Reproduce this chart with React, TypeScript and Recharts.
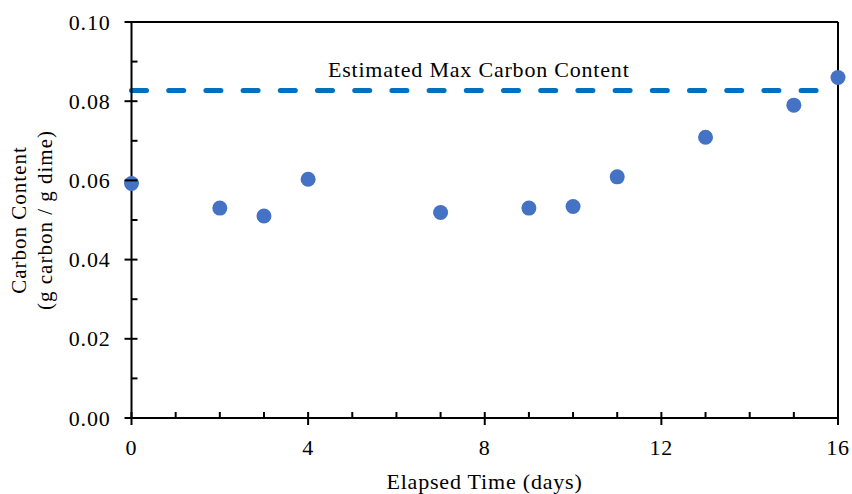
import React from 'react'
import { ScatterChart, Scatter, XAxis, YAxis, ReferenceLine } from 'recharts'

// elapsed time (days) and measured carbon content (g carbon / g dime)
const days = [0, 2, 3, 4, 7, 9, 10, 11, 13, 15, 16]
const carbon = [0.0592, 0.053, 0.051, 0.0603, 0.0519, 0.053, 0.0534, 0.0609, 0.0709, 0.079, 0.086]

const maxCarbon = 0.0827
const xTicks = [0, 1, 2, 3, 4, 5, 6, 7, 8, 9, 10, 11, 12, 13, 14, 15, 16]
const yTicks = [0, 0.01, 0.02, 0.03, 0.04, 0.05, 0.06, 0.07, 0.08, 0.09, 0.1]

const FONT = '"Liberation Serif", "Times New Roman", serif'
const textStyle = { fontFamily: FONT, fontSize: 22, letterSpacing: 0.8, fill: '#000' }

const data = days.map((d, i) => ({ x: d, y: carbon[i] }))

function XTick(props: any) {
  const { x, y, payload } = props
  const v = payload.value
  const major = v % 4 === 0
  return (
    <g>
      <line x1={x} x2={x} y1={y - 6} y2={major ? y + 7 : y} stroke="#000" strokeWidth={2} />
      {major && (
        <text x={x} y={y + 37} textAnchor="middle" style={textStyle}>{v}</text>
      )}
    </g>
  )
}

function YTick(props: any) {
  const { x, y, payload } = props
  const v = payload.value
  const major = Math.round(v * 100) % 2 === 0
  return (
    <g>
      <line x1={major ? x - 7 : x} x2={x + 6} y1={y} y2={y} stroke="#000" strokeWidth={2} />
      {major && (
        <text x={x - 21} y={y + 7.5} textAnchor="end" style={textStyle}>{v.toFixed(2)}</text>
      )}
    </g>
  )
}

// two-line rotated title, centred on the plot
function YLabel() {
  const cy = 220
  return (
    <text transform={`rotate(-90, 26, ${cy})`} x={26} y={cy} textAnchor="middle"
      style={{ ...textStyle, fontSize: 21, letterSpacing: 1 }}>
      <tspan x={26} dy={0}>Carbon Content</tspan>
      <tspan x={26} dy={26}>(g carbon / g dime)</tspan>
    </text>
  )
}

function XLabel() {
  return (
    <text x={484.5} y={489} textAnchor="middle" style={textStyle}>Elapsed Time (days)</text>
  )
}

function MaxLabel(props: any) {
  const vb = props.viewBox || {}
  return (
    <text x={vb.x + vb.width / 2 - 6} y={vb.y - 14} textAnchor="middle" style={textStyle}>
      Estimated Max Carbon Content
    </text>
  )
}

const dot = (p: any) => <circle cx={p.cx} cy={p.cy} r={7.5} fill="#4472C4" />

export default function App() {
  return (
    <div style={{ position: 'absolute', left: 0, top: 0, width: 852, height: 494, background: '#fff' }}>
      <ScatterChart width={852} height={494} margin={{ top: 22, right: 14, bottom: 0, left: 0 }}>
        <XAxis
          type="number"
          dataKey="x"
          domain={[0, 16]}
          ticks={xTicks}
          interval={0}
          tickSize={0}
          tickMargin={0}
          tickLine={false}
          tick={<XTick />}
          height={76}
          axisLine={{ stroke: '#000', strokeWidth: 2 }}
          label={<XLabel />}
        />
        <YAxis
          type="number"
          dataKey="y"
          domain={[0, 0.1]}
          ticks={yTicks}
          interval={0}
          tickSize={0}
          tickMargin={0}
          tickLine={false}
          tick={<YTick />}
          width={131.5}
          axisLine={{ stroke: '#000', strokeWidth: 2 }}
          label={<YLabel />}
        />
        <ReferenceLine y={0.1} stroke="#000" strokeWidth={2} />
        <ReferenceLine x={16} stroke="#000" strokeWidth={2} />
        <ReferenceLine
          y={maxCarbon}
          stroke="#0070C0"
          strokeWidth={5}
          strokeDasharray="15 22.2"
          strokeLinecap="round"
          label={<MaxLabel />}
        />
        <Scatter data={data} shape={dot} isAnimationActive={false} />
      </ScatterChart>
    </div>
  )
}
